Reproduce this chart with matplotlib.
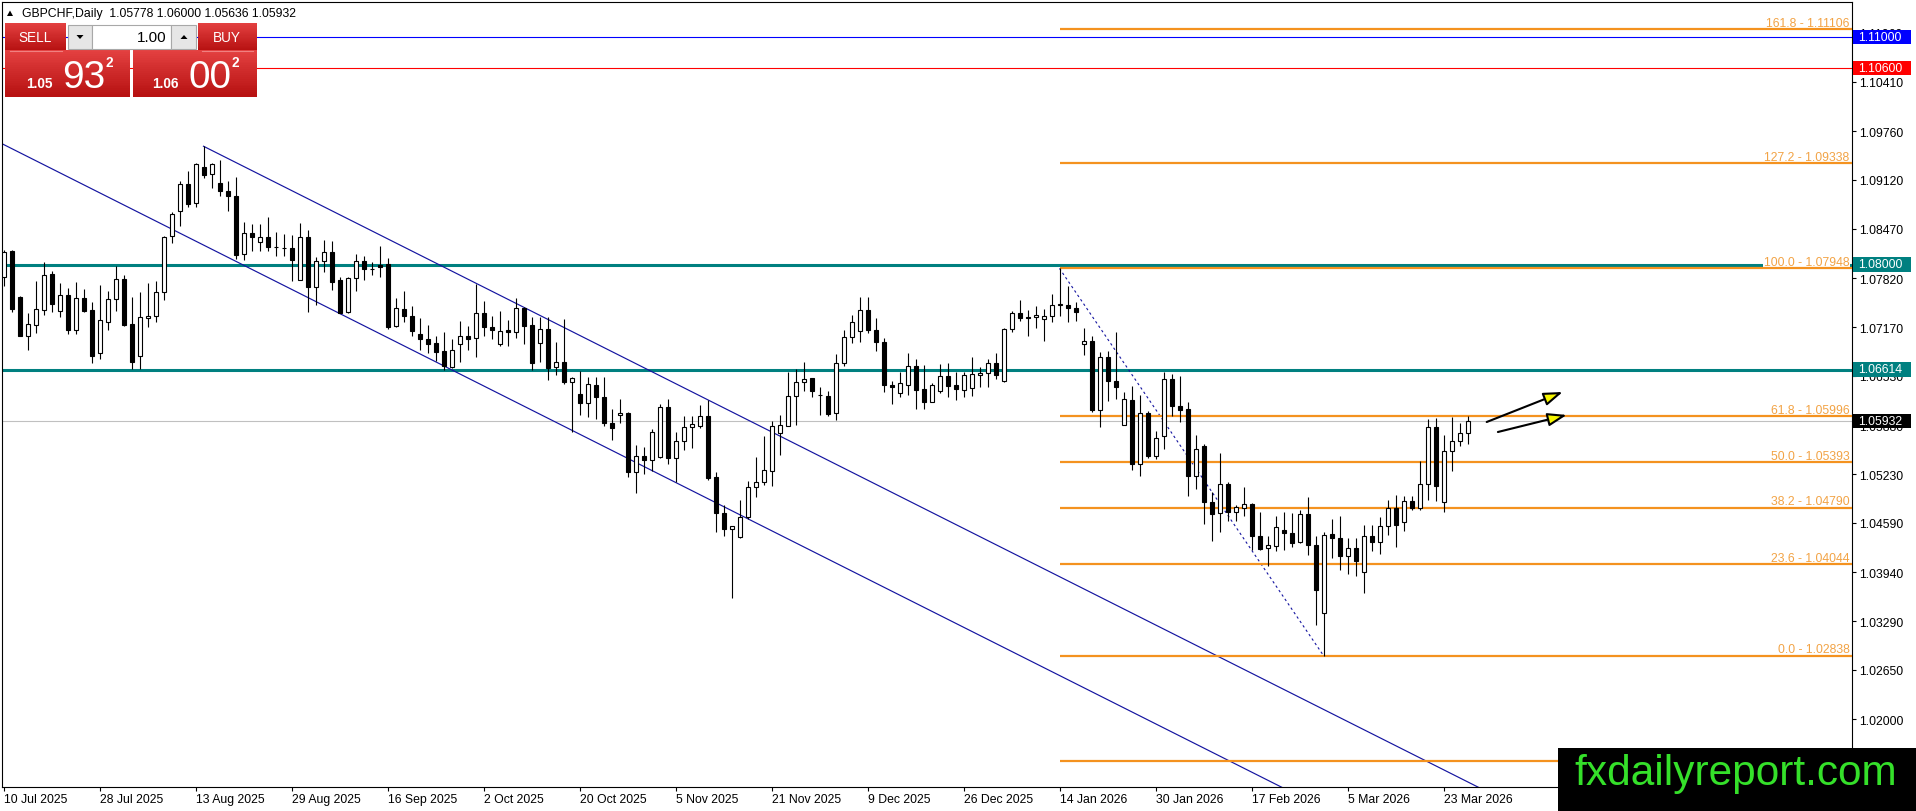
import matplotlib
matplotlib.use("Agg")
import matplotlib.pyplot as plt
import matplotlib.transforms as mtransforms
from matplotlib.patches import Rectangle, Polygon, FancyArrowPatch
from matplotlib import font_manager
import numpy as np

W, H, DPI = 1916, 812, 100

# ---------------- data ----------------
symbol_title = "GBPCHF,Daily"
header_ohlc = ["1.05778", "1.06000", "1.05636", "1.05932"]

opens = [1.07831, 1.08179, 1.07571, 1.07061, 1.07206, 1.07404, 1.07879, 1.07391, 1.07598, 1.07140,
         1.07554, 1.07400, 1.06828, 1.07245, 1.07541, 1.07805, 1.07215, 1.06789, 1.07290, 1.07325,
         1.07633, 1.08373, 1.08707, 1.09059, 1.08808, 1.09283, 1.09195, 1.09076, 1.08971, 1.08901,
         1.08139, 1.08412, 1.08293, 1.08359, 1.08227, 1.08218, 1.08214, 1.07800, 1.08359, 1.07699,
         1.08043, 1.08161, 1.07796, 1.07369, 1.07818, 1.08051, 1.07941, 1.07994, 1.08007, 1.07185,
         1.07413, 1.07317, 1.07083, 1.07017, 1.06960, 1.06855, 1.06643, 1.06951, 1.07053, 1.07026,
         1.07356, 1.07171, 1.06951, 1.07132, 1.07105, 1.07422, 1.07202, 1.06960, 1.07149, 1.06643,
         1.06717, 1.06445, 1.06291, 1.06168, 1.06410, 1.06247, 1.05904, 1.06010, 1.06036, 1.05265,
         1.05469, 1.05424, 1.05455, 1.06115, 1.05442, 1.05675, 1.05859, 1.05873, 1.05997, 1.05191,
         1.04716, 1.04509, 1.04399, 1.04663, 1.05059, 1.05125, 1.05279, 1.05772, 1.05873, 1.06261,
         1.06445, 1.06502, 1.06278, 1.06261, 1.06036, 1.06696, 1.07039, 1.07127, 1.07404, 1.07140,
         1.06973, 1.06414, 1.06300, 1.06414, 1.06665, 1.06357, 1.06189, 1.06335, 1.06525, 1.06410,
         1.06344, 1.06366, 1.06546, 1.06564, 1.06696, 1.06467, 1.07149, 1.07360, 1.07303, 1.07303,
         1.07281, 1.07317, 1.07470, 1.07470, 1.07426, 1.06947, 1.06991, 1.06084, 1.06775, 1.06459,
         1.05886, 1.06212, 1.05367, 1.06040, 1.05469, 1.05733, 1.06489, 1.06137, 1.06093, 1.05213,
         1.05601, 1.04861, 1.04716, 1.05099, 1.04729, 1.04782, 1.04839, 1.04421, 1.04254, 1.04289,
         1.04496, 1.04456, 1.04333, 1.04707, 1.04298, 1.03396, 1.04443, 1.04386, 1.04149, 1.04254,
         1.03937, 1.04413, 1.04333, 1.04545, 1.04782, 1.04605, 1.04883, 1.04786, 1.05099, 1.05851,
         1.04861, 1.05543, 1.05675, 1.05778]
highs = [1.08196, 1.08196, 1.07580, 1.07360, 1.07787, 1.08037, 1.07915, 1.07756, 1.07686, 1.07773,
         1.07677, 1.07505, 1.07734, 1.07647, 1.07985, 1.07862, 1.07567, 1.07641, 1.07756, 1.07787,
         1.08381, 1.08697, 1.09107, 1.09239, 1.09340, 1.09561, 1.09340, 1.09384, 1.09099, 1.09151,
         1.08557, 1.08535, 1.08535, 1.08623, 1.08433, 1.08403, 1.08390, 1.08548, 1.08460, 1.08095,
         1.08328, 1.08307, 1.07831, 1.07839, 1.08139, 1.08117, 1.08037, 1.08241, 1.08082, 1.07554,
         1.07647, 1.07449, 1.07290, 1.07202, 1.07061, 1.07113, 1.07017, 1.07259, 1.07193, 1.07743,
         1.07523, 1.07317, 1.07391, 1.07272, 1.07558, 1.07435, 1.07303, 1.07303, 1.07303, 1.06981,
         1.07281, 1.06510, 1.06599, 1.06511, 1.06511, 1.06511, 1.06093, 1.06225, 1.06049, 1.05618,
         1.05587, 1.05829, 1.06159, 1.06225, 1.05785, 1.05997, 1.06004, 1.06150, 1.06212, 1.05265,
         1.04826, 1.04553, 1.04892, 1.05147, 1.05455, 1.05741, 1.05939, 1.06014, 1.06577, 1.06621,
         1.06717, 1.06507, 1.06379, 1.06335, 1.06819, 1.07136, 1.07334, 1.07567, 1.07567, 1.07290,
         1.07026, 1.06459, 1.06577, 1.06832, 1.06753, 1.06674, 1.06436, 1.06687, 1.06700, 1.06577,
         1.06577, 1.06775, 1.06643, 1.06753, 1.06828, 1.07160, 1.07391, 1.07536, 1.07404, 1.07457,
         1.07413, 1.07611, 1.07948, 1.07721, 1.07501, 1.07158, 1.07053, 1.06841, 1.06863, 1.07105,
         1.06313, 1.06393, 1.06278, 1.06071, 1.05807, 1.06577, 1.06555, 1.06533, 1.06181, 1.05750,
         1.05631, 1.04993, 1.05512, 1.05125, 1.04826, 1.05059, 1.04852, 1.04729, 1.04421, 1.04685,
         1.04729, 1.04716, 1.04760, 1.04935, 1.04413, 1.04465, 1.04641, 1.04685, 1.04386, 1.04386,
         1.04562, 1.04562, 1.04663, 1.04892, 1.04962, 1.04949, 1.04949, 1.05411, 1.05961, 1.05970,
         1.05754, 1.05983, 1.05908, 1.06000]
lows = [1.07721, 1.07377, 1.07055, 1.06876, 1.07096, 1.07338, 1.07377, 1.07303, 1.07083, 1.07083,
        1.07373, 1.06700, 1.06753, 1.07140, 1.07391, 1.07193, 1.06621, 1.06621, 1.07171, 1.07245,
        1.07536, 1.08280, 1.08505, 1.08755, 1.08763, 1.09138, 1.09006, 1.08909, 1.08711, 1.08073,
        1.08064, 1.08183, 1.08175, 1.08183, 1.08117, 1.08117, 1.07787, 1.07796, 1.07377, 1.07470,
        1.07905, 1.07668, 1.07354, 1.07364, 1.07655, 1.07796, 1.07862, 1.07839, 1.07149, 1.07180,
        1.07245, 1.07061, 1.06876, 1.06832, 1.06731, 1.06612, 1.06638, 1.06717, 1.06876, 1.06775,
        1.07053, 1.07017, 1.06929, 1.06929, 1.07026, 1.06951, 1.06612, 1.06709, 1.06480, 1.06542,
        1.06423, 1.05793, 1.06014, 1.05983, 1.05961, 1.05873, 1.05688, 1.05904, 1.05191, 1.04984,
        1.05235, 1.05279, 1.05450, 1.05367, 1.05125, 1.05556, 1.05574, 1.05838, 1.05160, 1.04473,
        1.04413, 1.03594, 1.04394, 1.04641, 1.04927, 1.05090, 1.05081, 1.05486, 1.05865, 1.05882,
        1.06335, 1.06247, 1.06014, 1.06005, 1.05952, 1.06665, 1.06960, 1.06981, 1.07096, 1.06863,
        1.06321, 1.06159, 1.06247, 1.06278, 1.06093, 1.06093, 1.06180, 1.06304, 1.06247, 1.06216,
        1.06247, 1.06269, 1.06379, 1.06379, 1.06489, 1.06454, 1.07105, 1.07259, 1.07061, 1.07162,
        1.06995, 1.07237, 1.07325, 1.07245, 1.07259, 1.06806, 1.06049, 1.05851, 1.06203, 1.06225,
        1.05880, 1.05292, 1.05213, 1.05442, 1.05430, 1.05565, 1.05997, 1.05917, 1.04941, 1.05037,
        1.04575, 1.04355, 1.04465, 1.04619, 1.04619, 1.04685, 1.04236, 1.04236, 1.04017, 1.04223,
        1.04236, 1.04267, 1.04324, 1.04170, 1.03246, 1.02838, 1.04126, 1.03972, 1.03915, 1.03893,
        1.03664, 1.04223, 1.04179, 1.04430, 1.04275, 1.04487, 1.04760, 1.04760, 1.04896, 1.04883,
        1.04729, 1.05279, 1.05601, 1.05636]
closes = [1.08169, 1.07413, 1.07061, 1.07215, 1.07409, 1.07862, 1.07483, 1.07598, 1.07136, 1.07554,
          1.07391, 1.06797, 1.07264, 1.07541, 1.07805, 1.07206, 1.06717, 1.07303, 1.07325, 1.07633,
          1.08359, 1.08663, 1.09059, 1.08795, 1.09327, 1.09186, 1.09327, 1.08967, 1.08901, 1.08126,
          1.08412, 1.08359, 1.08359, 1.08227, 1.08231, 1.08214, 1.08064, 1.08359, 1.07699, 1.08043,
          1.08161, 1.07765, 1.07360, 1.07818, 1.08051, 1.07941, 1.07937, 1.07971, 1.07171, 1.07422,
          1.07325, 1.07127, 1.07017, 1.06951, 1.06849, 1.06657, 1.06876, 1.07061, 1.07017, 1.07356,
          1.07171, 1.07140, 1.07127, 1.07105, 1.07422, 1.07193, 1.06696, 1.07149, 1.06638, 1.06709,
          1.06445, 1.06498, 1.06168, 1.06423, 1.06255, 1.05904, 1.05846, 1.06036, 1.05265, 1.05469,
          1.05424, 1.05785, 1.06115, 1.05442, 1.05675, 1.05851, 1.05895, 1.05997, 1.05178, 1.04716,
          1.04509, 1.04545, 1.04663, 1.05059, 1.05133, 1.05288, 1.05873, 1.05882, 1.06261, 1.06445,
          1.06489, 1.06335, 1.06274, 1.06027, 1.06696, 1.07039, 1.07237, 1.07404, 1.07140, 1.06981,
          1.06410, 1.06387, 1.06432, 1.06665, 1.06348, 1.06189, 1.06410, 1.06525, 1.06401, 1.06357,
          1.06542, 1.06555, 1.06564, 1.06696, 1.06542, 1.07149, 1.07360, 1.07294, 1.07299, 1.07334,
          1.07317, 1.07466, 1.07476, 1.07422, 1.07377, 1.06991, 1.06080, 1.06775, 1.06467, 1.06379,
          1.06225, 1.05367, 1.06036, 1.05469, 1.05706, 1.06489, 1.06129, 1.06084, 1.05213, 1.05565,
          1.04861, 1.04707, 1.05099, 1.04729, 1.04795, 1.04839, 1.04413, 1.04245, 1.04298, 1.04531,
          1.04456, 1.04324, 1.04707, 1.04302, 1.03708, 1.04430, 1.04386, 1.04149, 1.04254, 1.04091,
          1.04413, 1.04333, 1.04545, 1.04782, 1.04566, 1.04883, 1.04786, 1.05099, 1.05851, 1.05081,
          1.05543, 1.05675, 1.05772, 1.05932]

date_labels = ["10 Jul 2025", "28 Jul 2025", "13 Aug 2025", "29 Aug 2025", "16 Sep 2025",
               "2 Oct 2025", "20 Oct 2025", "5 Nov 2025", "21 Nov 2025", "9 Dec 2025",
               "26 Dec 2025", "14 Jan 2026", "30 Jan 2026", "17 Feb 2026", "5 Mar 2026",
               "23 Mar 2026"]
date_label_step = 12

y_ticks = [1.02000, 1.02650, 1.03290, 1.03940, 1.04590, 1.05230, 1.05880, 1.06530,
           1.07170, 1.07820, 1.08470, 1.09120, 1.09760, 1.10410, 1.11060]

fib_high_bar, fib_high = 132, 1.07948
fib_low_bar, fib_low = 165, 1.02838
fib_levels = [-27.2, 0.0, 23.6, 38.2, 50.0, 61.8, 100.0, 127.2, 161.8]
fib_prices = [1.01448, 1.02838, 1.04044, 1.04790, 1.05393, 1.05996, 1.07948, 1.09338, 1.11106]
fib_label_shown = [False, True, True, True, True, True, True, True, True]

level_prices = [1.11000, 1.10600, 1.08000, 1.06614]
level_colors = ["#0000FF", "#FF0000", "#008080", "#008080"]
level_widths = [0.8, 0.8, 2.2, 2.2]
bid_price = 1.05932

channel_upper_bars, channel_upper_prices = [25, 190], [1.09561, 1.00800]
channel_lower_bars, channel_lower_prices = [-5, 170], [1.09850, 1.00557]

arrow_start_bars, arrow_start_prices = [185.4, 186.8], [1.05921, 1.05789]
arrow_end_bars, arrow_end_prices = [194.9, 195.4], [1.06317, 1.06014]

sell_price = ("1.05", "93", "2")
buy_price = ("1.06", "00", "2")
lot_size = "1.00"
watermark = "fxdailyreport.com"

# ---------------- fonts ----------------
plt.rcParams["font.family"] = ["Liberation Sans", "DejaVu Sans"]
_names = {f.name for f in font_manager.fontManager.ttflist}
NARROW = "Liberation Sans Narrow" if "Liberation Sans Narrow" in _names else "Liberation Sans"
narrow_scale = 1.0 if NARROW == "Liberation Sans Narrow" else 0.82

# ---------------- figure / axes ----------------
fig = plt.figure(figsize=(W / DPI, H / DPI), dpi=DPI)
fig.patch.set_facecolor("white")
ax = fig.add_axes([2 / W, 24 / H, 1850 / W, 785 / H])
ax.set_facecolor("white")
xmin = -1.5 / 8
xmax = xmin + 1850 / 8
ax.set_xlim(xmin, xmax)
ax.set_ylim(1.01103, 1.11465)
for s in ax.spines.values():
    s.set_color("black")
    s.set_linewidth(0.8)

# y axis on right
ax.yaxis.tick_right()
ax.set_yticks(y_ticks)
ax.set_yticklabels([f"{v:.5f}" for v in y_ticks])
ax.tick_params(axis="y", direction="out", length=3, width=0.8, pad=2.2,
               labelsize=8.8, colors="black")
# x axis
xt = [k * date_label_step for k in range(len(date_labels))]
ax.set_xticks(xt)
ax.set_xticklabels(date_labels)
ax.tick_params(axis="x", direction="out", length=3, width=0.8, pad=1.5,
               labelsize=8.8, colors="black")
for lbl in ax.get_xticklabels():
    lbl.set_horizontalalignment("left")

# ---------------- horizontal levels ----------------
for p, c, lw in zip(level_prices, level_colors, level_widths):
    ax.axhline(p, color=c, lw=lw, zorder=2)
ax.axhline(bid_price, color="#C0C0C0", lw=0.8, zorder=1.5)

# ---------------- channel ----------------
ax.plot(channel_upper_bars, channel_upper_prices, color="#1414A0", lw=0.85, zorder=2.2)
ax.plot(channel_lower_bars, channel_lower_prices, color="#1414A0", lw=0.85, zorder=2.2)

# ---------------- fibonacci ----------------
ax.plot([fib_high_bar, fib_low_bar], [fib_high, fib_low], color="#1414A0", lw=0.8,
        linestyle=(0, (2.2, 2.6)), zorder=2.3)
fib_line_color = "#F4921F"
fib_text_color = "#F2A345"
for lvl, p, shown in zip(fib_levels, fib_prices, fib_label_shown):
    ax.hlines(p, fib_high_bar, xmax, color=fib_line_color, lw=1.6, zorder=6)
    if shown:
        ax.text(xmax - 0.3, p + 0.00042, f"{lvl:.1f} - {p:.5f}", ha="right", va="baseline",
                color=fib_text_color, fontsize=8.8, zorder=5,
                bbox=dict(boxstyle="square,pad=0.05", fc="white", ec="none"))

# ---------------- candles ----------------
o = np.array(opens); h = np.array(highs); l = np.array(lows); c = np.array(closes)
x = np.arange(len(o))
up = c >= o
ax.vlines(x, l, h, color="black", lw=0.8, zorder=7)
bottoms = np.minimum(o, c)
heights = np.maximum(np.abs(c - o), 0.00001)
ax.bar(x, heights, bottom=bottoms, width=0.5,
       color=np.where(up, "white", "black"), edgecolor="black", linewidth=0.8, zorder=8)

# ---------------- arrows ----------------
for xs, ys, xe, ye in zip(arrow_start_bars, arrow_start_prices, arrow_end_bars, arrow_end_prices):
    arr = FancyArrowPatch((xs, ys), (xe, ye),
                          arrowstyle="-|>,head_length=1.15,head_width=0.4",
                          mutation_scale=10, lw=1.5, facecolor="#F5F500", edgecolor="black",
                          shrinkA=0, shrinkB=0, zorder=9)
    ax.add_patch(arr)

# ---------------- price tags on right axis ----------------
btr = mtransforms.blended_transform_factory(ax.transAxes, ax.transData)
px_price = (1.11465 - 1.01103) / 785
tags = [(1.11000, "#0000FF", "white"), (1.10600, "#FF0000", "white"),
        (1.08000, "#008080", "white"), (1.06614, "#008080", "white"),
        (bid_price, "black", "white")]
for p, fc, tc in tags:
    ax.add_patch(Rectangle(((1853 - 2) / 1850, p - 7 * px_price), 58 / 1850, 14 * px_price,
                           transform=btr, facecolor=fc, edgecolor="none", clip_on=False, zorder=20))
    ax.text((1858 - 2) / 1850, p, f"{p:.5f}", transform=btr, ha="left", va="center",
            color=tc, fontsize=8.8, zorder=21, clip_on=False)

# ---------------- header ----------------
def fx(px):
    return px / W

def fy(py):
    return 1 - py / H

fig.add_artist(Polygon([[fx(7), fy(17)], [fx(13), fy(17)], [fx(10), fy(11.5)]],
                       closed=True, transform=fig.transFigure, fc="black", ec="none"))
fig.text(fx(22), fy(14), symbol_title + "  " + " ".join(header_ohlc), ha="left", va="center",
         fontsize=8.8, color="black")

# ---------------- one-click trading panel ----------------
def rect(x0, y0, w, h, **kw):
    fig.add_artist(Rectangle((fx(x0), fy(y0 + h)), w / W, h / H, transform=fig.transFigure, **kw))

def grad_rect(x0, y0, w, h, top=(0.89, 0.25, 0.25), bot=(0.72, 0.07, 0.07), n=24):
    for k in range(n):
        t = k / (n - 1)
        col = tuple(top[j] * (1 - t) + bot[j] * t for j in range(3))
        rect(x0, y0 + h * k / n, w, h / n + 0.6, facecolor=col, edgecolor="none")

grad_rect(5, 24, 61, 27)
grad_rect(5, 51, 125, 46)
grad_rect(198, 24, 59, 27)
grad_rect(133, 51, 124, 46)
fig.add_artist(plt.Line2D([fx(10), fx(62)], [fy(51.5), fy(51.5)], transform=fig.transFigure,
                          color="#F08080", lw=0.8))
fig.add_artist(plt.Line2D([fx(202), fx(253)], [fy(51.5), fy(51.5)], transform=fig.transFigure,
                          color="#F08080", lw=0.8))
rect(68, 26, 24, 24, facecolor="#E6E6E6", edgecolor="#A8A8A8", lw=0.8)
rect(92, 26, 79, 24, facecolor="white", edgecolor="#A8A8A8", lw=0.8)
rect(171, 26, 25, 24, facecolor="#E6E6E6", edgecolor="#A8A8A8", lw=0.8)
fig.add_artist(Polygon([[fx(76.5), fy(36)], [fx(83.5), fy(36)], [fx(80), fy(40)]], closed=True,
                       transform=fig.transFigure, fc="black", ec="none"))
fig.add_artist(Polygon([[fx(180.5), fy(40)], [fx(187.5), fy(40)], [fx(184), fy(36)]], closed=True,
                       transform=fig.transFigure, fc="black", ec="none"))
fig.text(fx(166), fy(38), lot_size, ha="right", va="center", fontsize=11, color="black")
fig.text(fx(35), fy(38), "SELL", ha="center", va="center", fontsize=12 * narrow_scale,
         color="white", family=NARROW)
fig.text(fx(227), fy(38), "BUY", ha="center", va="center", fontsize=12 * narrow_scale,
         color="white", family=NARROW)
for (small, big, sup), x0 in ((sell_price, 26), (buy_price, 152)):
    fig.text(fx(x0), fy(88), small, ha="left", va="baseline", fontsize=12 * narrow_scale,
             color="white", weight="bold", family=NARROW)
    fig.text(fx(x0 + 36), fy(88), big, ha="left", va="baseline", fontsize=34 * narrow_scale,
             color="white", family=NARROW)
    fig.text(fx(x0 + 80), fy(67), sup, ha="left", va="baseline", fontsize=12 * narrow_scale,
             color="white", weight="bold", family=NARROW)

# ---------------- watermark ----------------
rect(1558, 749, W - 1558, H - 749 + 1, facecolor="black", edgecolor="none", zorder=30)
fig.text(fx(1736), fy(785), watermark, ha="center", va="baseline", fontsize=30.5,
         color="#35E02A", zorder=31)

fig.savefig("out.png", dpi=DPI, facecolor="white")
